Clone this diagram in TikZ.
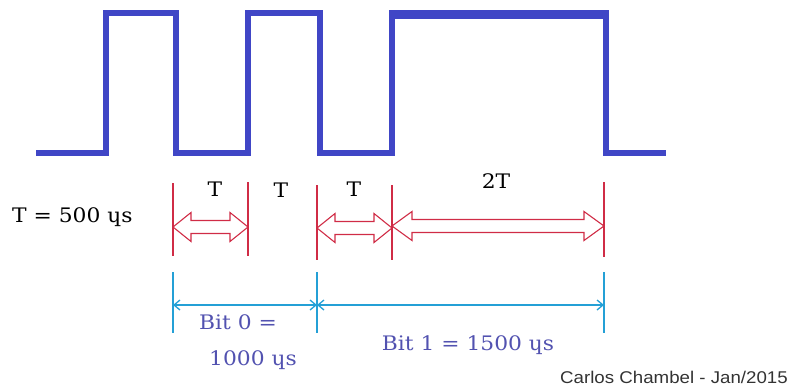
\documentclass[tikz,border=0pt]{standalone}
\usepackage{fontspec}
\setmainfont[FakeStretch=1.09]{DejaVu Serif}
\newfontfamily\signfont[FakeStretch=1.1]{Liberation Sans}
\usepackage{xcolor}
\usepackage{tikz}
\usetikzlibrary{arrows.meta}
\definecolor{wave}{RGB}{64,70,198}
\definecolor{dimred}{RGB}{208,44,70}
\definecolor{dimcyan}{RGB}{36,160,214}
\definecolor{bittext}{RGB}{82,82,176}

\begin{document}
\begin{tikzpicture}[x=1pt,y=-1pt,
  lbl/.style={inner sep=0pt,anchor=base,font=\fontsize{20}{24}\selectfont},
  redtick/.style={draw=dimred,line width=1.4pt},
  hollow/.style={draw=dimred,line width=1.1pt,line join=miter},
  cyantick/.style={draw=dimcyan,line width=1.4pt},
  cyandim/.style={draw=dimcyan,line width=1.3pt,{Straight Barb[length=6pt,width=10pt]}-{Straight Barb[length=6pt,width=10pt]}}]
\useasboundingbox (0,0) rectangle (791,388);
% waveform
\draw[wave,line width=6pt] (36,153) -- (106,153) -- (106,12.5) -- (176,12.5) -- (176,153) -- (247.5,153) -- (247.5,12.5) -- (319.5,12.5) -- (319.5,153) -- (391.5,153) -- (391.5,12.5) -- (606,12.5) -- (606,153) -- (666,153);
\draw[wave,line width=4pt] (391.5,16.5) -- (606,16.5);
% red ticks
\draw[redtick] (173,183) -- (173,256);
\draw[redtick] (248,182) -- (248,256);
\draw[redtick] (317,185) -- (317,260);
\draw[redtick] (392,185) -- (392,260);
\draw[redtick] (604,182) -- (604,257);
% hollow arrows
\draw[hollow] (173,227) -- (191,212.5) -- (191,220.5) -- (230,220.5) -- (230,212.5) -- (248,227) -- (230,241.5) -- (230,233.5) -- (191,233.5) -- (191,241.5) -- cycle;
\draw[hollow] (317,228) -- (335,213.5) -- (335,221.5) -- (374,221.5) -- (374,213.5) -- (392,228) -- (374,242.5) -- (374,234.5) -- (335,234.5) -- (335,242.5) -- cycle;
\draw[hollow] (392,226) -- (412,211.5) -- (412,219.5) -- (584,219.5) -- (584,211.5) -- (604,226) -- (584,240.5) -- (584,232.5) -- (412,232.5) -- (412,240.5) -- cycle;
% bit lengths
\draw[cyantick] (173,272) -- (173,333);
\draw[cyantick] (317,272) -- (317,333);
\draw[cyantick] (604,272) -- (604,333);
\coordinate (c0) at (173,305);
\coordinate (c1) at (317,305);
\coordinate (c2) at (604,305);
\draw[cyandim] (c0) -- (c1);
\draw[cyandim] (c1) -- (c2);
% labels
\node[lbl,anchor=base west] (period) at (12,222) {T = 500 ɥs};
\node[lbl] (ta) at (215,196) {T};
\node[lbl] (tb) at (281,197) {T};
\node[lbl] (tc) at (354,196) {T};
\node[lbl] (ttwo) at (496,188) {2T};
\node[lbl,text=bittext] (bitzero) at (238,329) {Bit 0 =};
\node[lbl,text=bittext] (bitzeroval) at (253,365) {1000 ɥs};
\node[lbl,text=bittext] (bitone) at (468,350) {Bit 1 = 1500 ɥs};
\node[inner sep=0pt,anchor=base east,text=black!80,font=\signfont\fontsize{17}{20}\selectfont] (credit) at (788,383) {Carlos Chambel - Jan/2015};
\end{tikzpicture}
\end{document}
